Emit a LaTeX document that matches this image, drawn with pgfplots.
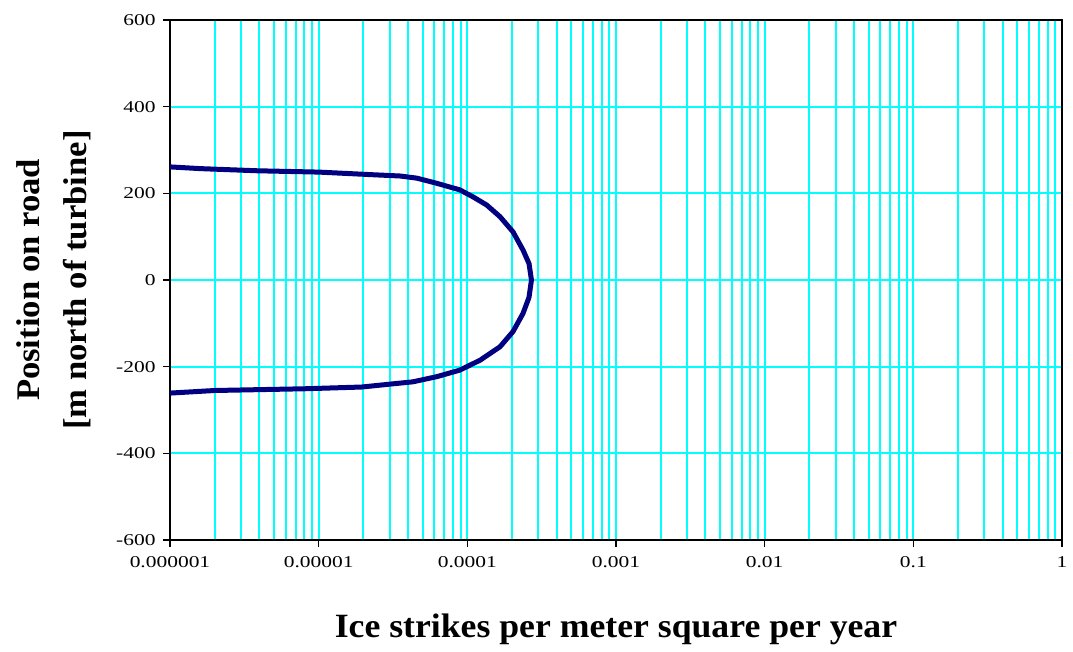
\documentclass[border=0pt]{standalone}
\usepackage{fontspec}
\setmainfont{Liberation Serif}
\newfontfamily\tickfont[FakeStretch=1.3]{Liberation Serif}
\newfontfamily\labelfont[FakeStretch=1.05]{Liberation Serif}
\usepackage{pgfplots}
\pgfplotsset{compat=1.18}
\definecolor{gridcyan}{RGB}{0,255,255}
\definecolor{curvenavy}{RGB}{0,0,128}
\begin{document}
\begin{tikzpicture}
\begin{axis}[
    scale only axis,
    width=892pt,
    height=520pt,
    xmode=log,
    xmin=1e-6, xmax=1,
    ymin=-600, ymax=600,
    xtick={1e-6,1e-5,1e-4,1e-3,1e-2,1e-1,1},
    xticklabels={0.000001,0.00001,0.0001,0.001,0.01,0.1,1},
    ytick={-600,-400,-200,0,200,400,600},
    yticklabels={-600,-400,-200,0,200,400,600},
    tick pos=left,
    tick align=outside,
    major tick length=7pt,
    minor tick length=0pt,
    xmajorgrids=true,
    xminorgrids=true,
    ymajorgrids=true,
    every axis grid/.style={gridcyan, line width=2pt},
    grid style={gridcyan, line width=2pt},
    minor grid style={gridcyan, line width=2pt},
    axis line style={black, line width=1.3pt},
    every tick/.style={black, line width=1.3pt},
    ticklabel style={font=\tickfont\fontsize{16.5}{18}\selectfont},
    xticklabel style={yshift=-6pt},
    yticklabel style={xshift=-4pt},
    xlabel={Ice strikes per meter square per year},
    ylabel={Position on road\\{[m north of turbine]}},
    xlabel style={font=\labelfont\bfseries\fontsize{34}{36}\selectfont, yshift=-39pt},
    ylabel style={font=\labelfont\bfseries\fontsize{33}{47}\selectfont, align=center, yshift=18pt},
]
\addplot[color=curvenavy, line width=5pt, line join=round] coordinates {
    (1e-6,261)
    (1.6e-6,257)
    (3.9e-6,252)
    (1e-5,249)
    (2.28e-5,243)
    (3.52e-5,240)
    (4.58e-5,235)
    (6.25e-5,223)
    (8.9e-5,208)
    (1.09e-4,192)
    (1.35e-4,173)
    (1.66e-4,146)
    (2.03e-4,111)
    (2.37e-4,69)
    (2.6e-4,38)
    (2.7e-4,0)
    (2.6e-4,-40)
    (2.37e-4,-77)
    (2.03e-4,-119)
    (1.66e-4,-154)
    (1.22e-4,-185)
    (8.9e-5,-208)
    (6.25e-5,-223)
    (4.3e-5,-235)
    (2.7e-5,-242)
    (1.95e-5,-247)
    (8.1e-6,-251)
    (2.0e-6,-255)
    (1e-6,-261)
};
\end{axis}
\path (current axis.south west) ++(-170pt,-112pt) rectangle ++(1073pt,652pt);
\end{tikzpicture}
\end{document}
